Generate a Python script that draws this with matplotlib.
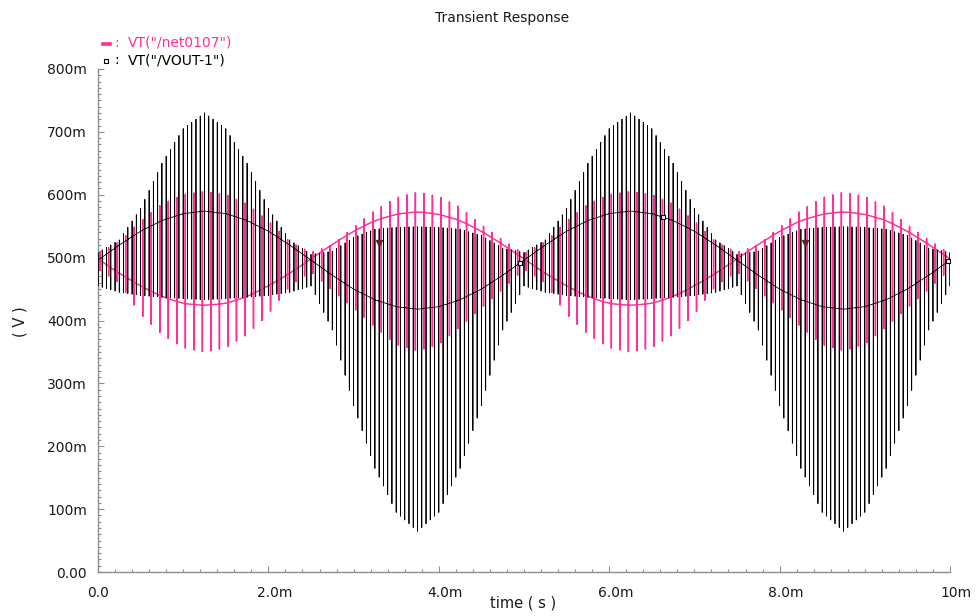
import numpy as np
import matplotlib
matplotlib.use("Agg")
import matplotlib.pyplot as plt
from matplotlib.lines import Line2D
from matplotlib.ticker import FixedLocator, MultipleLocator

plt.rcParams['font.family'] = ['DejaVu Sans']

# ---------------------------------------------------------------------------
# Data (time in ms, voltage in mV)
# ---------------------------------------------------------------------------
# Envelope sample times
env_t_ms = np.linspace(0.0, 10.0, 41)

# VT("/VOUT-1"): baseline between chopping spikes, spike upper and lower extent
vout_mid = [496, 520, 542, 559, 570, 574, 570, 559, 542, 520,
            496, 472, 450, 433, 422, 418, 422, 433, 450, 472,
            496, 520, 542, 559, 570, 574, 570, 559, 542, 520,
            496, 472, 450, 433, 422, 418, 422, 433, 450, 472, 496]
vout_top = [508, 528, 578, 650, 705, 730, 705, 650, 578, 528,
            505, 510, 532, 545, 548, 549, 548, 545, 535, 515,
            508, 528, 578, 650, 705, 730, 705, 650, 578, 528,
            505, 510, 532, 545, 548, 549, 548, 545, 535, 515, 508]
vout_bot = [455, 445, 440, 437, 435, 433, 435, 437, 440, 445,
            455, 385, 265, 165, 95, 65, 95, 165, 265, 385,
            455, 445, 440, 437, 435, 433, 435, 437, 440, 445,
            455, 385, 265, 165, 95, 65, 95, 165, 265, 385, 455]

# VT("/net0107"): flat level between edges, edge spike upper and lower extent
net_flat = [498, 475, 455, 438, 427, 424, 427, 438, 455, 475,
            498, 521, 542, 559, 569, 573, 569, 559, 542, 521,
            498, 475, 455, 438, 427, 424, 427, 438, 455, 475,
            498, 521, 542, 559, 569, 573, 569, 559, 542, 521, 498]
net_top = [506, 525, 558, 585, 600, 605, 600, 585, 558, 525,
           508, 520, 548, 575, 595, 604, 597, 580, 552, 528,
           506, 525, 558, 585, 600, 605, 600, 585, 558, 525,
           508, 520, 548, 575, 595, 604, 597, 580, 552, 528, 506]
net_bot = [482, 460, 410, 378, 357, 350, 357, 378, 410, 455,
           478, 448, 420, 390, 362, 352, 362, 390, 420, 450,
           482, 460, 410, 378, 357, 350, 357, 378, 410, 455,
           478, 448, 420, 390, 362, 352, 362, 390, 420, 450, 482]

# Trace symbols
net_marker_t = [3.30, 8.30]
net_marker_v = [523, 523]
vout_marker_t = [4.95, 6.63, 9.98]
vout_marker_v = [491, 565, 495]

# Axis ticks
x_tick_ms = [0, 2, 4, 6, 8, 10]
x_tick_labels = ["0.0", "2.0m", "4.0m", "6.0m", "8.0m", "10m"]
y_tick_mv = [0, 100, 200, 300, 400, 500, 600, 700, 800]
y_tick_labels = ["0.00", "100m", "200m", "300m", "400m",
                 "500m", "600m", "700m", "800m"]

# Clock of the chopper
chop_period_ms = 0.1
t_end_ms = 10.0

PINK = "#ff2f96"
AXC = "#8e8e8e"

# ---------------------------------------------------------------------------
# Build the waveforms: vertical spike at every chopper edge
# ---------------------------------------------------------------------------
def envelope(t, vals):
    return np.interp(t, env_t_ms, vals)

# VOUT-1 switches twice per clock period
tb = np.arange(0, int(round(t_end_ms / (chop_period_ms / 2))) + 1) * (chop_period_ms / 2)
b_mid = envelope(tb, vout_mid)
b_top = envelope(tb, vout_top)
b_bot = envelope(tb, vout_bot)
bx = np.repeat(tb, 4)
by = np.column_stack([b_mid, b_top, b_bot, b_mid]).ravel()

# net0107 has one edge per clock period, between the VOUT-1 edges
tp = chop_period_ms / 4 + np.arange(0, int(round(t_end_ms / chop_period_ms))) * chop_period_ms
p_flat = envelope(tp, net_flat)
p_top = envelope(tp, net_top)
p_bot = envelope(tp, net_bot)
px = np.concatenate([[0.0], np.repeat(tp, 4), [t_end_ms]])
py = np.concatenate([[net_flat[0]],
                     np.column_stack([p_flat, p_top, p_bot, p_flat]).ravel(),
                     [net_flat[-1]]])

# ---------------------------------------------------------------------------
# Figure
# ---------------------------------------------------------------------------
W, H = 978, 616
fig = plt.figure(figsize=(W / 100, H / 100), dpi=100)
fig.patch.set_facecolor("white")
ax = fig.add_axes([98 / W, 1 - 572 / H, (950 - 98) / W, (572 - 69) / H])
ax.set_facecolor("white")

ax.plot(px, py, color=PINK, lw=1.05, zorder=2)
ax.plot(bx, by, color="black", lw=0.6, zorder=3)

ax.plot(net_marker_t, net_marker_v, ls="none", marker="v", ms=4,
        color="#602030", zorder=4)
ax.plot(vout_marker_t, vout_marker_v, ls="none", marker="s", ms=3.5,
        mfc="white", mec="black", mew=0.8, zorder=4)

ax.set_xlim(0, t_end_ms)
ax.set_ylim(0, 800)

for side in ("top", "right"):
    ax.spines[side].set_visible(False)
for side in ("left", "bottom"):
    ax.spines[side].set_color(AXC)
    ax.spines[side].set_linewidth(1.0)

ax.xaxis.set_major_locator(FixedLocator(x_tick_ms))
ax.xaxis.set_minor_locator(MultipleLocator(0.2))
ax.yaxis.set_major_locator(FixedLocator(y_tick_mv))
ax.yaxis.set_minor_locator(MultipleLocator(10))
ax.tick_params(which="both", direction="in", color=AXC, width=0.8)
ax.tick_params(which="major", length=4.5)
ax.tick_params(which="minor", length=2.5)
ax.set_xticklabels([""] * len(x_tick_ms))
ax.set_yticklabels(y_tick_labels, fontsize=10, color="#1a1a1a")
ax.tick_params(axis="y", pad=8)

# x tick labels: numeric part centred on the tick, unit hanging to the right
for t, lab in zip(x_tick_ms, x_tick_labels):
    dx = 4.5 if lab.endswith("m") else 0
    ax.annotate(lab, xy=(t, 0), xycoords=("data", "axes fraction"),
                xytext=(dx, -10), textcoords="offset points",
                ha="center", va="top", fontsize=10, color="#1a1a1a")

fig.text(502 / W, 1 - 18 / H, "Transient Response", ha="center", va="center",
         fontsize=10, color="#1a1a1a")
fig.text(523 / W, 1 - 603 / H, "time ( s )", ha="center", va="center",
         fontsize=10.5, color="#1a1a1a")
fig.text(20 / W, 1 - 322 / H, "( V )", ha="center", va="center",
         rotation=90, fontsize=10.5, color="#1a1a1a")

# Trace legend
fig.add_artist(Line2D([103 / W, 110 / W], [1 - 44 / H, 1 - 44 / H],
                      transform=fig.transFigure, color=PINK, lw=2.6))
fig.text(114 / W, 1 - 43 / H, ":", color=PINK, fontsize=10, va="center")
fig.text(128 / W, 1 - 43 / H, 'VT("/net0107")', color=PINK, fontsize=10,
         va="center")
fig.add_artist(Line2D([106 / W], [1 - 61 / H], transform=fig.transFigure,
                      ls="none", marker="s", ms=3.5, mfc="white",
                      mec="black", mew=0.8))
fig.text(114 / W, 1 - 60 / H, ":", color="black", fontsize=10, va="center")
fig.text(128 / W, 1 - 60 / H, 'VT("/VOUT-1")', color="black", fontsize=10,
         va="center")

fig.savefig("out.png", dpi=100, facecolor=fig.get_facecolor())
